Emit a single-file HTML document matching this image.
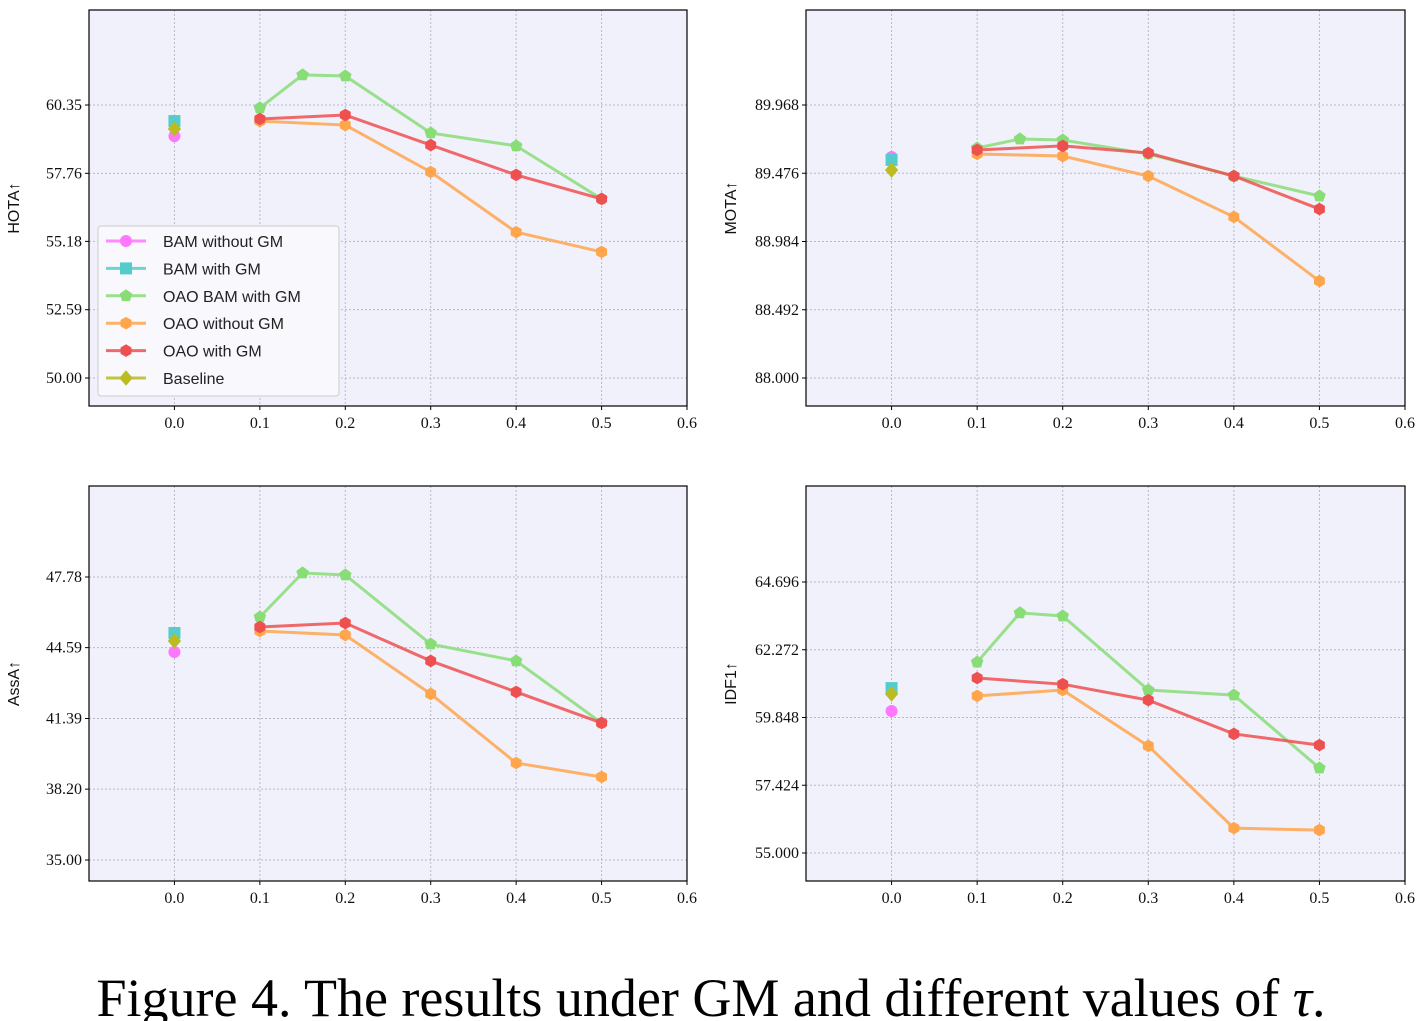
<!DOCTYPE html>
<html><head><meta charset="utf-8"><style>
body{margin:0;background:#fff;width:1427px;height:1021px;overflow:hidden}
svg{display:block}
.tick{font-family:"Liberation Serif",serif;font-size:16px;fill:#111}
.ylab{font-family:"Liberation Sans",sans-serif;font-size:16px;fill:#111}
.leg{font-family:"Liberation Sans",sans-serif;font-size:16px;fill:#222}
.cap{font-family:"Liberation Serif",serif;font-size:54px;fill:#000}
</style></head><body>
<svg id="fig" width="1427" height="1021">
<text class="cap" x="711" y="1016" text-anchor="middle">Figure 4. The results under GM and different values of <tspan font-style="italic">τ</tspan>.</text>
</svg>
<script>
const xTicks=[0.0,0.1,0.2,0.3,0.4,0.5,0.6];
const xsOAO=[0.1,0.2,0.3,0.4,0.5];
const xsOAOBAM=[0.1,0.15,0.2,0.3,0.4,0.5];
const seriesNames=["BAM without GM","BAM with GM","OAO BAM with GM","OAO without GM","OAO with GM","Baseline"];
// HOTA
const hotaTicks=[50.00,52.59,55.18,57.76,60.35];
const hotaSingles=[59.17,59.74,59.44];
const hotaOAOBAM=[60.24,61.49,61.45,59.29,58.80,56.79];
const hotaOAOwo=[59.74,59.59,57.81,55.53,54.78];
const hotaOAOw=[59.82,59.97,58.83,57.70,56.79];
// MOTA
const motaTicks=["88.000","88.492","88.984","89.476","89.968"];
const motaSingles=[89.593,89.572,89.499];
const motaOAOBAM=[89.658,89.723,89.716,89.615,89.456,89.312];
const motaOAOwo=[89.615,89.600,89.456,89.161,88.699];
const motaOAOw=[89.644,89.673,89.622,89.456,89.218];
// AssA
const assaTicks=[35.00,38.20,41.39,44.59,47.78];
const assaSingles=[44.39,45.25,44.89];
const assaOAOBAM=[45.97,47.96,47.87,44.75,43.99,41.19];
const assaOAOwo=[45.34,45.16,42.50,39.38,38.75];
const assaOAOw=[45.52,45.70,43.99,42.59,41.19];
// IDF1
const idf1Ticks=["55.000","57.424","59.848","62.272","64.696"];
const idf1Singles=[60.08,60.90,60.69];
const idf1OAOBAM=[61.83,63.59,63.48,60.83,60.65,58.04];
const idf1OAOwo=[60.62,60.83,58.83,55.89,55.82];
const idf1OAOw=[61.26,61.04,60.47,59.26,58.86];

const NS="http://www.w3.org/2000/svg";
const fig=document.getElementById('fig');
function mk(tag,at,parent){const e=document.createElementNS(NS,tag);for(const k in at)e.setAttribute(k,at[k]);(parent||fig).appendChild(e);return e;}
const colors=["#ff77ff","#55cccc","#88dd77","#ffa64d","#ee5050","#bbbb22"];
function marker(g,shape,cx,cy,c,r){
  let e;
  if(shape==="o")e=mk('circle',{cx,cy,r:r,fill:c},g);
  else if(shape==="s")e=mk('rect',{x:cx-r,y:cy-r,width:2*r,height:2*r,fill:c},g);
  else if(shape==="p"){let p=[];for(let i=0;i<5;i++){const a=-Math.PI/2+i*2*Math.PI/5;p.push((cx+r*1.1*Math.cos(a))+","+(cy+r*1.1*Math.sin(a)));}e=mk('polygon',{points:p.join(" "),fill:c},g);}
  else if(shape==="h"){let p=[];for(let i=0;i<6;i++){const a=-Math.PI/2+i*Math.PI/3;p.push((cx+r*1.05*Math.cos(a))+","+(cy+r*1.05*Math.sin(a)));}e=mk('polygon',{points:p.join(" "),fill:c},g);}
  else if(shape==="D"){e=mk('polygon',{points:`${cx},${cy-r*1.3} ${cx+r*1.1},${cy} ${cx},${cy+r*1.3} ${cx-r*1.1},${cy}`,fill:c},g);}
  
  
  return e;
}
const shapes=["o","s","p","h","h","D"];
function panel(name,x0,y0,x1,y1,ticks,tickPx,singles,oaobam,oaowo,oaow,ylabel,legend){
  const g=mk('g',{});
  
  
  const t0=parseFloat(ticks[0]),t4=parseFloat(ticks[4]);
  const [pLo,pHi]=tickPx;
  const Y=v=>pLo+(v-t0)*(pHi-pLo)/(t4-t0);
  const X=v=>x0+(v+0.1)*(x1-x0)/0.7;
  mk('rect',{x:x0,y:y0,width:x1-x0,height:y1-y0,fill:"#f1f1fb"},g);
  xTicks.forEach(t=>{
    const x=X(t);
    mk('line',{x1:x,y1:y0,x2:x,y2:y1,stroke:"#b8b8c8","stroke-width":1,"stroke-dasharray":"2,2"},g);
    mk('line',{x1:x,y1:y1,x2:x,y2:y1+4,stroke:"#000"},g);
    const tx=mk('text',{x:x,y:y1+22,class:"tick","text-anchor":"middle"},g);tx.textContent=t.toFixed(1);
    
    
  });
  ticks.forEach(t=>{
    const y=Y(parseFloat(t));
    mk('line',{x1:x0,y1:y,x2:x1,y2:y,stroke:"#b8b8c8","stroke-width":1,"stroke-dasharray":"2,2"},g);
    mk('line',{x1:x0-4,y1:y,x2:x0,y2:y,stroke:"#000"},g);
    const tx=mk('text',{x:x0-7,y:y+5,class:"tick","text-anchor":"end"},g);tx.textContent=typeof t==="string"?t:t.toFixed(2);
    
    
  });
  mk('rect',{x:x0,y:y0,width:x1-x0,height:y1-y0,fill:"none",stroke:"#000","stroke-width":1.2},g);
  const yl=mk('text',{x:0,y:0,class:"ylab","text-anchor":"middle",transform:`translate(${x0-70},${(y0+y1)/2}) rotate(-90)`},g);
  yl.textContent=ylabel;
  
  
  const lines=[[xsOAOBAM,oaobam,2],[xsOAO,oaowo,3],[xsOAO,oaow,4]];
  lines.forEach(([xs,vs,ci])=>{
    const pts=xs.map((x,i)=>X(x)+","+Y(vs[i])).join(" ");
    const pl=mk('polyline',{points:pts,fill:"none",stroke:colors[ci],"stroke-width":3,"stroke-opacity":0.85},g);
    
    
    xs.forEach((x,i)=>marker(g,shapes[ci],X(x),Y(vs[i]),colors[ci],6));
  });
  [0,1,5].forEach((ci,k)=>marker(g,shapes[ci],X(0),Y(singles[k]),colors[ci],6));
  if(legend){
    const lg=mk('g',{},g);
    
    
    mk('rect',{x:98,y:226,width:241,height:170,rx:3,fill:"#f8f8fd",stroke:"#ccc"},lg);
    seriesNames.forEach((n,i)=>{
      const y=241+i*27.4;
      mk('line',{x1:106,y1:y,x2:146,y2:y,stroke:colors[i],"stroke-width":3,"stroke-opacity":0.85},lg);
      marker(lg,shapes[i],126,y,colors[i],6);
      const t=mk('text',{x:163,y:y+6,class:"leg"},lg);t.textContent=n;
      
      
    });
  }
}
panel("hota",89,10,687,406,hotaTicks,[378,105],hotaSingles,hotaOAOBAM,hotaOAOwo,hotaOAOw,"HOTA↑",true);
panel("mota",806,10,1405,406,motaTicks,[378,105],motaSingles,motaOAOBAM,motaOAOwo,motaOAOw,"MOTA↑",false);
panel("assa",89,486,687,881,assaTicks,[860,577],assaSingles,assaOAOBAM,assaOAOwo,assaOAOw,"AssA↑",false);
panel("idf1",806,486,1405,881,idf1Ticks,[853,582],idf1Singles,idf1OAOBAM,idf1OAOwo,idf1OAOw,"IDF1↑",false);
</script>
</body></html>
